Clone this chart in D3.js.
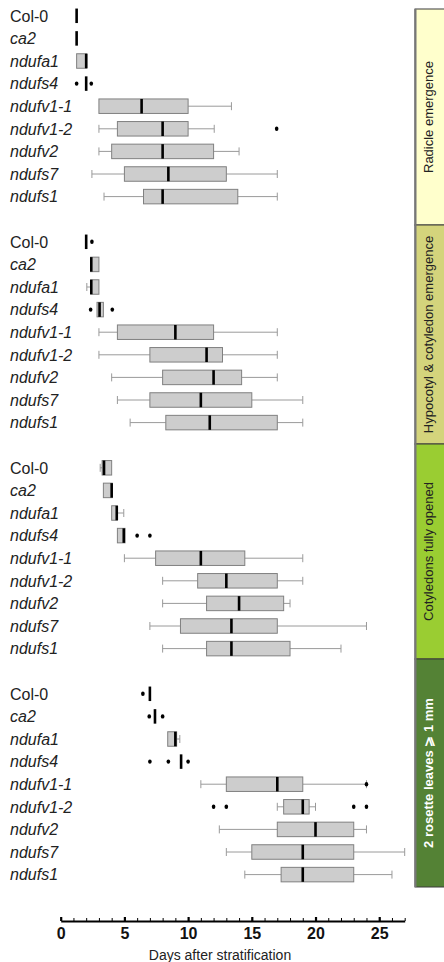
<!DOCTYPE html>
<html>
<head>
<meta charset="utf-8">
<script src="https://cdn.jsdelivr.net/npm/d3@7"></script>
<style>
  html, body { margin: 0; padding: 0; background: #fff; }
  svg { display: block; }
</style>
</head>
<body>
<div id="chart"></div>
<script>
const genotypes = ["Col-0", "ca2", "ndufa1", "ndufs4", "ndufv1-1", "ndufv1-2", "ndufv2", "ndufs7", "ndufs1"];
const stages = ["Radicle emergence", "Hypocotyl & cotyledon emergence", "Cotyledons fully opened", "2 rosette leaves \u2A7E 1 mm"];
const stageColors = ["#ffffcc", "#d4d47c", "#9acd32", "#548235"];

// [low whisker, q1, median, q3, high whisker] per genotype, days
const radicle = [
  [1.25, 1.25, 1.25, 1.25, 1.25], [1.25, 1.25, 1.25, 1.25, 1.25], [1.25, 1.25, 2, 2.05, 2.05],
  [2, 2, 2, 2, 2], [3, 3, 6.35, 10, 13.4], [3, 4.45, 8, 10, 12.05],
  [3, 4, 8, 12, 14], [2.45, 5, 8.45, 13, 17], [3.4, 6.5, 8, 13.9, 17]
];
const radicleOut = [[], [], [], [1.25, 2.4], [], [16.95], [], [], []];

const hypocotyl = [
  [2, 2, 2, 2, 2], [2.35, 2.35, 2.4, 3, 3], [2.05, 2.35, 2.4, 3, 3],
  [2.85, 2.85, 3.05, 3.35, 3.35], [3, 4.45, 9, 12, 17], [3, 7, 11.45, 12.7, 17],
  [4, 8, 12, 14.2, 17], [4.45, 7, 11, 15, 19], [5.45, 8.25, 11.7, 17, 19]
];
const hypocotylOut = [[2.45], [], [], [2.35, 4.05], [], [], [], [], []];

const cotyledon = [
  [3.1, 3.25, 3.4, 4, 4], [3.35, 3.35, 4, 4.05, 4.05], [4, 4, 4.4, 4.45, 4.95],
  [4.45, 4.45, 4.95, 5.05, 5.05], [5, 7.45, 11, 14.45, 19], [8, 10.75, 13, 17, 19],
  [8, 11.45, 14, 17.5, 18], [7, 9.4, 13.4, 17, 24], [8, 11.45, 13.4, 18, 22]
];
const cotyledonOut = [[], [], [], [6, 7], [], [], [], [], []];

const rosette = [
  [7, 7, 7, 7, 7], [7.4, 7.4, 7.4, 7.4, 7.4], [8.4, 8.4, 9, 9.1, 9.35],
  [9.45, 9.45, 9.45, 9.45, 9.45], [11, 13, 17, 19, 24], [17, 17.5, 19, 19.5, 20],
  [12.45, 17, 20, 23, 24], [13, 15, 19, 23, 27], [14.45, 17.3, 19, 23, 26]
];
const rosetteOut = [[6.45], [6.95, 8], [], [7, 8.45, 10], [24], [12, 13, 23, 24], [], [], []];

const xTicks = [0, 5, 10, 15, 20, 25];

const panels = [
  { stats: radicle, out: radicleOut },
  { stats: hypocotyl, out: hypocotylOut },
  { stats: cotyledon, out: cotyledonOut },
  { stats: rosette, out: rosetteOut }
];

const width = 444, height = 962;
const svg = d3.select("#chart").append("svg")
  .attr("width", width).attr("height", height);

const x = d3.scaleLinear().domain([0, 27]).range([60.7, 404.7]);
// one empty row between panels
const y = d3.scaleLinear().domain([0, 38]).range([15.8, 874.6]);
const boxH = 14.5, capH = 8;

// stage strips on the right
const stripEdges = [9, 225, 444, 659, 887];
const strips = svg.append("g");
stages.forEach((s, p) => {
  strips.append("rect")
    .attr("x", 415).attr("y", stripEdges[p])
    .attr("width", 40).attr("height", stripEdges[p + 1] - stripEdges[p])
    .attr("fill", stageColors[p])
    .attr("stroke", "#3a3a3a").attr("stroke-width", 1);
  const cy = (stripEdges[p] + stripEdges[p + 1]) / 2;
  strips.append("text")
    .attr("transform", `translate(428,${cy}) rotate(-90)`)
    .attr("text-anchor", "middle")
    .attr("dy", "0.35em")
    .attr("font-family", "Liberation Sans, Arial, sans-serif")
    .attr("font-size", 13)
    .attr("font-weight", p === 3 ? "bold" : "normal")
    .attr("fill", p === 3 ? "#ffffff" : "#222")
    .text(s);
});
strips.append("line")
  .attr("x1", 415.5).attr("x2", 415.5)
  .attr("y1", stripEdges[0]).attr("y2", stripEdges[4])
  .attr("stroke", "#777").attr("stroke-width", 2);

// boxplots
panels.forEach((panel, p) => {
  const g = svg.append("g");
  genotypes.forEach((name, i) => {
    const cy = y(p * 10 + i);
    const [lo, q1, med, q3, hi] = panel.stats[i];

    g.append("text")
      .attr("x", 10).attr("y", cy).attr("dy", "0.36em")
      .attr("font-family", "Liberation Sans, Arial, sans-serif")
      .attr("font-size", 16)
      .attr("font-style", name === "Col-0" ? "normal" : "italic")
      .attr("fill", "#222")
      .text(name);

    const wcol = "#9a9a9a";
    if (lo < q1) {
      g.append("line").attr("x1", x(lo)).attr("x2", x(q1)).attr("y1", cy).attr("y2", cy)
        .attr("stroke", wcol).attr("stroke-width", 1);
      g.append("line").attr("x1", x(lo)).attr("x2", x(lo)).attr("y1", cy - capH / 2).attr("y2", cy + capH / 2)
        .attr("stroke", wcol).attr("stroke-width", 1);
    }
    if (hi > q3) {
      g.append("line").attr("x1", x(q3)).attr("x2", x(hi)).attr("y1", cy).attr("y2", cy)
        .attr("stroke", wcol).attr("stroke-width", 1);
      g.append("line").attr("x1", x(hi)).attr("x2", x(hi)).attr("y1", cy - capH / 2).attr("y2", cy + capH / 2)
        .attr("stroke", wcol).attr("stroke-width", 1);
    }
    if (q3 > q1) {
      g.append("rect")
        .attr("x", x(q1)).attr("y", cy - boxH / 2)
        .attr("width", x(q3) - x(q1)).attr("height", boxH)
        .attr("fill", "#cdcdcd").attr("stroke", "#808080").attr("stroke-width", 1);
    }
    g.append("line")
      .attr("x1", x(med)).attr("x2", x(med))
      .attr("y1", cy - boxH / 2).attr("y2", cy + boxH / 2)
      .attr("stroke", "#000").attr("stroke-width", 2.6);

    g.selectAll(null).data(panel.out[i]).join("ellipse")
      .attr("cx", d => x(d)).attr("cy", cy)
      .attr("rx", 1.8).attr("ry", 2.2)
      .attr("fill", "#000");
  });
});

// x axis
const axisY = 921;
const minor = svg.append("g").attr("transform", `translate(0,${axisY})`)
  .call(d3.axisBottom(x).tickValues(d3.range(0, 28)).tickSizeInner(-3).tickSizeOuter(0).tickFormat(""));
minor.select(".domain").attr("stroke", "#000").attr("stroke-width", 1.8);
minor.selectAll(".tick line").attr("stroke", "#000").attr("stroke-width", 1);

const major = svg.append("g").attr("transform", `translate(0,${axisY})`)
  .call(d3.axisBottom(x).tickValues(xTicks).tickSizeInner(-4).tickSizeOuter(0).tickPadding(7));
major.select(".domain").remove();
major.selectAll(".tick line").attr("stroke", "#000").attr("stroke-width", 2.2);
major.selectAll(".tick text")
  .attr("font-family", "Liberation Sans Narrow, Arial Narrow, Liberation Sans, sans-serif")
  .attr("font-size", 16).attr("font-weight", "bold").attr("fill", "#111");

svg.append("text")
  .attr("x", 220).attr("y", 960)
  .attr("text-anchor", "middle")
  .attr("font-family", "Liberation Sans, Arial, sans-serif")
  .attr("font-size", 14).attr("fill", "#222")
  .text("Days after stratification");
</script>
</body>
</html>
